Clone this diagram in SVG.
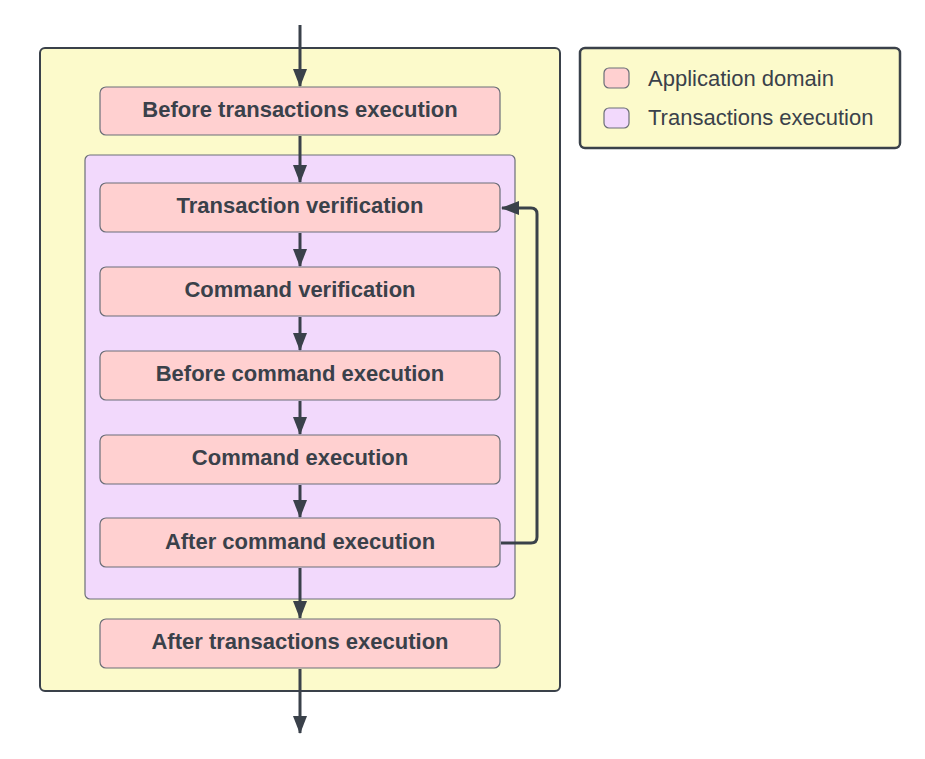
<svg xmlns="http://www.w3.org/2000/svg" width="925" height="759" viewBox="0 0 925 759">
<style>
.node rect{fill:#ffd0d0;stroke:#6b6e78;stroke-width:1.2}
.node text{font-family:"Liberation Sans",Arial,sans-serif;font-weight:bold;font-size:22px;fill:#3a414a;text-anchor:middle}
.leg{font-family:"Liberation Sans",Arial,sans-serif;font-size:22px;fill:#3a414a}
.conn path{fill:none;stroke:#3a414a;stroke-width:3}
</style>
<defs>
<marker id="ah" viewBox="0 0 18 14" refX="17" refY="7" markerWidth="18" markerHeight="14" markerUnits="userSpaceOnUse" orient="auto">
<path d="M0,0 L18,7 L0,14 z" fill="#3a414a"/>
</marker>
</defs>
<rect width="925" height="759" fill="#ffffff"/>
<g id="container-outer">
<rect x="40" y="48" width="520" height="643" rx="5" fill="#fcfacb" stroke="#3a414a" stroke-width="2"/>
</g>
<g id="container-tx">
<rect x="85" y="155" width="430" height="444" rx="5" fill="#f2d9fc" stroke="#6b6e78" stroke-width="1.2"/>
</g>
<g class="node" id="before-tx"><rect x="100" y="87" width="400" height="48" rx="6"/><text x="300" y="117">Before transactions execution</text></g>
<g class="node" id="tx-verif"><rect x="100" y="183" width="400" height="49" rx="6"/><text x="300" y="213">Transaction verification</text></g>
<g class="node" id="cmd-verif"><rect x="100" y="267" width="400" height="49" rx="6"/><text x="300" y="297">Command verification</text></g>
<g class="node" id="before-cmd"><rect x="100" y="351" width="400" height="49" rx="6"/><text x="300" y="381">Before command execution</text></g>
<g class="node" id="cmd-exec"><rect x="100" y="435" width="400" height="49" rx="6"/><text x="300" y="465">Command execution</text></g>
<g class="node" id="after-cmd"><rect x="100" y="518" width="400" height="49" rx="6"/><text x="300" y="549">After command execution</text></g>
<g class="node" id="after-tx"><rect x="100" y="619" width="400" height="49" rx="6"/><text x="300" y="649">After transactions execution</text></g>
<g class="conn" id="connectors">
<path d="M300,25 V86" marker-end="url(#ah)"/>
<path d="M300,136 V182" marker-end="url(#ah)"/>
<path d="M300,233 V266" marker-end="url(#ah)"/>
<path d="M300,317 V350" marker-end="url(#ah)"/>
<path d="M300,401 V434" marker-end="url(#ah)"/>
<path d="M300,485 V517" marker-end="url(#ah)"/>
<path d="M300,568 V618" marker-end="url(#ah)"/>
<path d="M300,669 V733" marker-end="url(#ah)"/>
<path d="M501,543 H531 Q537,543 537,537 V214 Q537,208 531,208 H502" marker-end="url(#ah)"/>
</g>
<g id="legend">
<rect x="580" y="48" width="320" height="100" rx="5" fill="#fcfacb" stroke="#3a414a" stroke-width="2.5"/>
<rect x="604" y="68" width="25" height="20" rx="5" fill="#ffd0d0" stroke="#6b6e78" stroke-width="1.2"/>
<text class="leg" x="648" y="86">Application domain</text>
<rect x="604" y="108" width="25" height="20" rx="5" fill="#f2d9fc" stroke="#6b6e78" stroke-width="1.2"/>
<text class="leg" x="648" y="125">Transactions execution</text>
</g>
</svg>
